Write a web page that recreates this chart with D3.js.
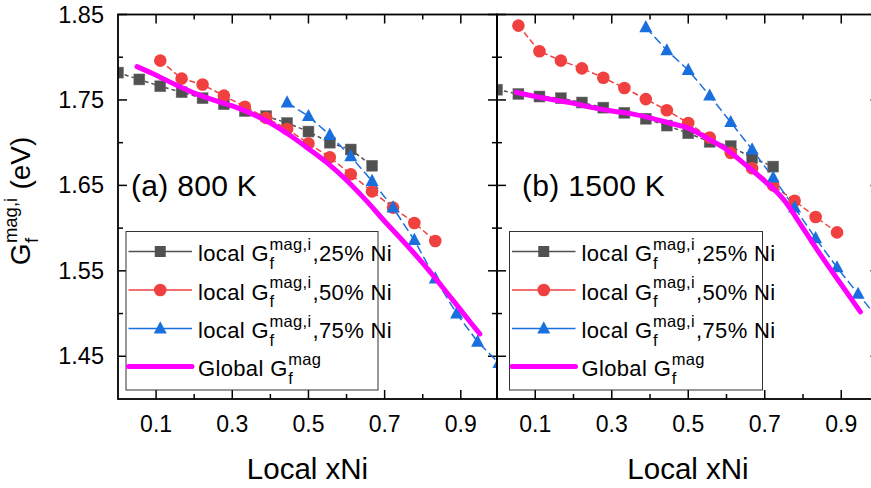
<!DOCTYPE html>
<html>
<head>
<meta charset="utf-8">
<script src="https://cdn.jsdelivr.net/npm/d3@7"></script>
<style>
  html, body { margin: 0; padding: 0; background: #fff; }
  svg { display: block; font-family: "Liberation Sans", Arial, sans-serif; }
  svg text { white-space: pre; }
</style>
</head>
<body>
<svg id="chart" width="871" height="488"></svg>
<script>
// ---------------- data ----------------
const xLocal = [0, 0.056, 0.111, 0.167, 0.222, 0.278, 0.333, 0.389, 0.444, 0.5, 0.556, 0.611, 0.667, 0.722, 0.778, 0.833, 0.889, 0.944, 1.0];
const xGlobal = [0.05, 0.10, 0.15, 0.20, 0.25, 0.30, 0.35, 0.40, 0.45, 0.50, 0.55, 0.60, 0.65, 0.70, 0.75, 0.80, 0.85, 0.90, 0.95];

// 800 K
const ni25_800 = [1.782, 1.774, 1.766, 1.759, 1.752, 1.745, 1.737, 1.731, 1.723, 1.713, 1.700, 1.692, 1.673];            // xLocal[0..12]
const ni50_800 = [1.796, 1.775, 1.768, 1.755, 1.742, 1.729, 1.716, 1.699, 1.683, 1.663, 1.643, 1.624, 1.606, 1.585];     // xLocal[2..15]
const ni75_800 = [1.747, 1.731, 1.709, 1.684, 1.655, 1.624, 1.586, 1.541, 1.500, 1.467, 1.442];                         // xLocal[8..18]
const global_800 = [1.789, 1.779, 1.768, 1.758, 1.750, 1.743, 1.734, 1.723, 1.709, 1.693, 1.676, 1.656, 1.633, 1.608, 1.584, 1.559, 1.532, 1.504, 1.476];

// 1500 K
const ni25_1500 = [1.762, 1.757, 1.754, 1.752, 1.747, 1.741, 1.735, 1.728, 1.720, 1.711, 1.701, 1.696, 1.682, 1.672];    // xLocal[0..13]
const ni50_1500 = [1.837, 1.807, 1.796, 1.787, 1.776, 1.764, 1.751, 1.738, 1.723, 1.706, 1.688, 1.670, 1.650, 1.632, 1.613, 1.595]; // xLocal[1..16]
const ni75_1500 = [1.835, 1.808, 1.785, 1.755, 1.724, 1.692, 1.659, 1.624, 1.588, 1.554, 1.523, 1.492];                // xLocal[7..18]
const global_1500 = [1.759, 1.754, 1.750, 1.746, 1.741, 1.737, 1.734, 1.729, 1.723, 1.717, 1.705, 1.692, 1.674, 1.655, 1.633, 1.600, 1.566, 1.534, 1.502];

const xMajorTicks = [0.1, 0.3, 0.5, 0.7, 0.9];
const xMinorTicks = [0.2, 0.4, 0.6, 0.8];
const yMajorTicks = [1.45, 1.55, 1.65, 1.75, 1.85];
const yMinorTicks = [1.50, 1.60, 1.70, 1.80];

const panelLabels = ["(a) 800 K", "(b) 1500 K"];
const legendPct = ["25% Ni", "50% Ni", "75% Ni"];
const xTitle = "Local xNi";

// ---------------- styles ----------------
const colors = { ni25: "#515151", ni50: "#F14040", ni75: "#1A6FDF", global: "#FF00FF" };

const svg = d3.select("#chart");
const yScale = d3.scaleLinear().domain([1.40, 1.85]).range([399, 14.5]);

const panels = [
  { x0: 118, x1: 497, dom: [0, 0.995], s25: [ni25_800, 0], s50: [ni50_800, 2], s75: [ni75_800, 8], glob: global_800, label: panelLabels[0] },
  { x0: 497, x1: 879.5, dom: [0, 1.0], s25: [ni25_1500, 0], s50: [ni50_1500, 1], s75: [ni75_1500, 7], glob: global_1500, label: panelLabels[1] }
];

const yTop = yScale.range()[1], yBot = yScale.range()[0];

function triPath(cx, cy, s) {
  const h = s * 0.9;
  return `M${cx},${cy - h * 0.62}L${cx + s / 2},${cy + h * 0.42}L${cx - s / 2},${cy + h * 0.42}Z`;
}

panels.forEach((p, i) => {
  const x = d3.scaleLinear().domain(p.dom).range([p.x0, p.x1]);
  const g = svg.append("g");
  const clipId = "clip" + i;
  svg.append("clipPath").attr("id", clipId).append("rect")
    .attr("x", p.x0).attr("y", yTop).attr("width", p.x1 - p.x0).attr("height", yBot - yTop);

  // ticks (inward, on all four sides)
  const tk = g.append("g").attr("stroke", "#000").attr("stroke-width", 1.5);
  const addX = (vals, len) => vals.forEach(v => {
    tk.append("line").attr("x1", x(v)).attr("x2", x(v)).attr("y1", yBot).attr("y2", yBot - len);
    tk.append("line").attr("x1", x(v)).attr("x2", x(v)).attr("y1", yTop).attr("y2", yTop + len);
  });
  addX(xMajorTicks, 9); addX(xMinorTicks, 5);
  const addY = (vals, len) => vals.forEach(v => {
    tk.append("line").attr("x1", p.x0).attr("x2", p.x0 + len).attr("y1", yScale(v)).attr("y2", yScale(v));
    tk.append("line").attr("x1", p.x1).attr("x2", p.x1 - len).attr("y1", yScale(v)).attr("y2", yScale(v));
  });
  addY(yMajorTicks, 9); addY(yMinorTicks, 5);

  // x tick labels
  g.append("g").selectAll("text").data(xMajorTicks).join("text")
    .attr("x", d => x(d)).attr("y", 431.5).attr("text-anchor", "middle")
    .attr("font-size", 23).text(d => d3.format(".1f")(d));

  // x axis title
  g.append("text").attr("x", (p.x0 + Math.min(p.x1, 871)) / 2 + (i === 0 ? 0 : 4)).attr("y", 479)
    .attr("text-anchor", "middle").attr("font-size", 29.5).text(xTitle);

  // data
  const dg = g.append("g").attr("clip-path", `url(#${clipId})`);
  const line = d3.line().x(d => x(d[0])).y(d => yScale(d[1]));

  const mk = (arr, off) => arr.map((v, k) => [xLocal[k + off], v]);
  const d25 = mk(p.s25[0], p.s25[1]);
  const d50 = mk(p.s50[0], p.s50[1]);
  const d75 = mk(p.s75[0], p.s75[1]);

  dg.append("path").attr("d", line(d25)).attr("fill", "none").attr("stroke", colors.ni25)
    .attr("stroke-width", 1.5).attr("stroke-dasharray", "4,3");
  dg.append("path").attr("d", line(d50)).attr("fill", "none").attr("stroke", colors.ni50)
    .attr("stroke-width", 1.5).attr("stroke-dasharray", "6,3");
  dg.append("path").attr("d", line(d75)).attr("fill", "none").attr("stroke", colors.ni75)
    .attr("stroke-width", 1.5).attr("stroke-dasharray", "9,4");

  dg.append("g").selectAll("rect").data(d25).join("rect")
    .attr("x", d => x(d[0]) - 5.5).attr("y", d => yScale(d[1]) - 5.5)
    .attr("width", 11).attr("height", 11).attr("fill", colors.ni25)
    .attr("stroke", "#777").attr("stroke-width", 0.5);
  dg.append("g").selectAll("circle").data(d50).join("circle")
    .attr("cx", d => x(d[0])).attr("cy", d => yScale(d[1])).attr("r", 6.3)
    .attr("fill", colors.ni50);
  dg.append("g").selectAll("path").data(d75).join("path")
    .attr("d", d => triPath(x(d[0]), yScale(d[1]), 13)).attr("fill", colors.ni75);

  const gd = p.glob.map((v, k) => [xGlobal[k], v]);
  dg.append("path").attr("d", d3.line().x(d => x(d[0])).y(d => yScale(d[1])).curve(d3.curveMonotoneX)(gd))
    .attr("fill", "none").attr("stroke", colors.global).attr("stroke-width", 5).attr("stroke-linecap", "round");

  // panel label
  g.append("text").attr("x", p.x0 + (i === 0 ? 13 : 25)).attr("y", 196).attr("font-size", 30)
    .attr("letter-spacing", 0.3).text(p.label);

  // legend
  const lx = i === 0 ? 126 : 509.5, lw = i === 0 ? 252 : 253;
  const lg = g.append("g").attr("letter-spacing", 0.35);
  lg.append("rect").attr("x", lx).attr("y", 231.5).attr("width", lw).attr("height", 158.5)
    .attr("fill", "#fff").attr("stroke", "#333").attr("stroke-width", 1);
  const rows = [251.5, 290, 328.5, 366.5];
  const sx0 = lx + 2.5, sx1 = lx + 66, smid = (sx0 + sx1) / 2, tx = lx + 72;
  const fsMain = 22, fsSmall = 16.5;
  const supDy = -11.5, subDy = 7.5;
  const keys = ["ni25", "ni50", "ni75"];
  keys.forEach((k, r) => {
    const cy = rows[r];
    lg.append("line").attr("x1", sx0).attr("x2", sx1).attr("y1", cy).attr("y2", cy)
      .attr("stroke", colors[k]).attr("stroke-width", 1.5);
    if (r === 0) lg.append("rect").attr("x", smid - 5.5).attr("y", cy - 5.5).attr("width", 11).attr("height", 11).attr("fill", colors[k]);
    if (r === 1) lg.append("circle").attr("cx", smid).attr("cy", cy).attr("r", 6.3).attr("fill", colors[k]);
    if (r === 2) lg.append("path").attr("d", triPath(smid, cy, 13)).attr("fill", colors[k]);
    const base = cy + 9.5;
    const t1 = lg.append("text").attr("x", tx).attr("y", base).attr("font-size", fsMain).text("local G");
    const w1 = t1.node().getComputedTextLength();
    const sup = lg.append("text").attr("x", tx + w1 + 0.5).attr("y", base + supDy).attr("font-size", fsSmall).text("mag,i");
    lg.append("text").attr("x", tx + w1 + 0.5).attr("y", base + subDy).attr("font-size", fsSmall).text("f");
    const w2 = sup.node().getComputedTextLength();
    lg.append("text").attr("x", tx + w1 + w2 + 1.5).attr("y", base).attr("font-size", fsMain).text("," + legendPct[r]);
  });
  {
    const cy = rows[3];
    lg.append("line").attr("x1", sx0).attr("x2", sx1).attr("y1", cy).attr("y2", cy)
      .attr("stroke", colors.global).attr("stroke-width", 5).attr("stroke-linecap", "round");
    const base = cy + 9.5;
    const t1 = lg.append("text").attr("x", tx).attr("y", base).attr("font-size", fsMain).text("Global G");
    const w1 = t1.node().getComputedTextLength();
    lg.append("text").attr("x", tx + w1 + 0.5).attr("y", base + supDy).attr("font-size", fsSmall).text("mag");
    lg.append("text").attr("x", tx + w1 + 0.5).attr("y", base + subDy).attr("font-size", fsSmall).text("f");
  }

  // frame
  g.append("rect").attr("x", p.x0).attr("y", yTop).attr("width", p.x1 - p.x0).attr("height", yBot - yTop)
    .attr("fill", "none").attr("stroke", "#000").attr("stroke-width", 1.8);
});

// y tick labels (left panel only)
svg.append("g").selectAll("text").data(yMajorTicks).join("text")
  .attr("x", 104).attr("y", d => yScale(d) + 8).attr("text-anchor", "end")
  .attr("font-size", 23.5).text(d => d3.format(".2f")(d));

// y axis title: G, superscript mag,i stacked over subscript f, then (eV)
{
  const fs = 28;
  const yg = svg.append("g").attr("transform", "translate(30,201) rotate(-90)");
  const a = yg.append("text").attr("font-size", fs).text("G");
  const s = yg.append("text").attr("font-size", 18.5).text("mag,i");
  const f = yg.append("text").attr("font-size", 18.5).text("f");
  const r = yg.append("text").attr("font-size", fs).text("\u00a0(eV)");
  const wa = a.node().getComputedTextLength();
  const ws = s.node().getComputedTextLength();
  const wr = r.node().getComputedTextLength();
  const total = wa + ws + 1 + wr;
  const x0 = -total / 2;
  a.attr("x", x0).attr("y", 0);
  s.attr("x", x0 + wa + 0.5).attr("y", -13.5);
  f.attr("x", x0 + wa + 0.5).attr("y", 7.5);
  r.attr("x", x0 + wa + ws + 1).attr("y", 0);
}
</script>
</body>
</html>
